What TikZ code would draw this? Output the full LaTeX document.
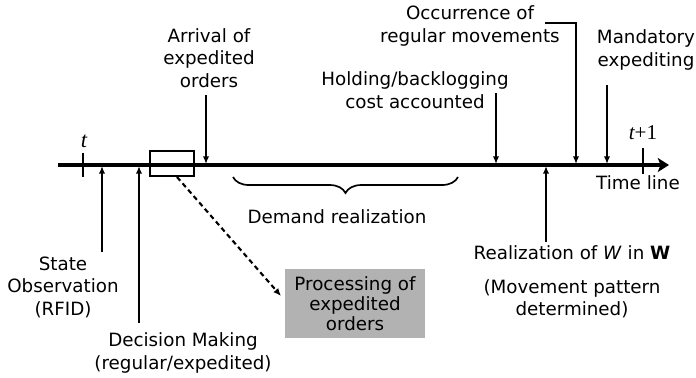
\documentclass[tikz,border=0pt]{standalone}
\usepackage{fontspec}
\setmainfont{DejaVu Sans}
\newfontfamily\serifrm{Liberation Serif}
\usetikzlibrary{arrows.meta,decorations.pathreplacing}

\begin{document}
\begin{tikzpicture}[
    x=0.025cm, y=-0.025cm,
    lab/.style={align=center, inner sep=0pt, font=\fontsize{13}{16}\selectfont},
    tip/.style={line width=1.5pt, -{Latex[length=5.5pt,width=4.6pt]}},
    tick/.style={line width=1.6pt},
    procbox/.style={fill=black!30, minimum width=3.475cm, minimum height=1.725cm, inner sep=0pt, align=center, font=\fontsize{13}{14}\selectfont},
    windowbox/.style={draw, line width=1.3pt, minimum width=1.1cm, minimum height=0.625cm, inner sep=0pt}
    ]
    \useasboundingbox (0,0) rectangle (696,377);

    % time line
    \coordinate (start) at (58,165);
    \coordinate (stop) at (669,165);
    \draw[line width=3pt, -{Stealth[length=8pt,width=10pt,inset=2pt]}] (start) -- (stop);
    \node [windowbox] (window) at (172,163.5) {};

    \coordinate (t0a) at (83,153); \coordinate (t0b) at (83,177);
    \coordinate (t1a) at (643,148); \coordinate (t1b) at (643,174);
    \draw[tick] (t0a) -- (t0b);
    \draw[tick] (t1a) -- (t1b);
    \node [lab, font=\fontsize{16}{16}\selectfont] (tlab) at (84,141) {\serifrm\itshape t};
    \node [lab, font=\fontsize{15}{16}\selectfont] (t1lab) at (643,133) {\serifrm{\itshape t}+1};
    \node [lab] (timeline) at (638,183) {Time line};

    % labels above the line
    \node [lab] (arrival) at (209,58) {Arrival of\\expedited\\orders};
    \node [lab] (occur) at (470,26) {Occurrence of\\regular movements};
    \node [lab] (holding) at (415,90) {Holding/backlogging\\cost accounted};
    \node [lab] (mandatory) at (646,50) {Mandatory\\expediting};

    \coordinate (arr1) at (206,95);  \coordinate (arr2) at (206,164);
    \coordinate (occ1) at (545,23);  \coordinate (occ0) at (576,23);
    \coordinate (occ2) at (576,164);
    \coordinate (hol1) at (496,93);  \coordinate (hol2) at (496,164);
    \coordinate (man1) at (607,85);  \coordinate (man2) at (607,164);

    \draw[tip] (arr1) -- (arr2);
    \draw[tip] (occ1) -- (occ0) -- (occ2);
    \draw[tip] (hol1) -- (hol2);
    \draw[tip] (man1) -- (man2);

    % labels below the line
    \node [lab] (state) at (63,287) {State\\Observation\\(RFID)};
    \node [lab] (decision) at (183,353) {Decision Making\\(regular/expedited)};
    \node [lab] (realization) at (572,253) {Realization of \textit{W} in \textbf{W}};
    \node [lab] (movement) at (572,299) {(Movement pattern\\determined)};
    \node [lab] (demand) at (337,217) {Demand realization};
    \node [procbox] (proc) at (355,303.5) {Processing of\\expedited\\orders};

    \coordinate (obs1) at (102,252); \coordinate (obs2) at (102,166);
    \coordinate (dec1) at (139,323); \coordinate (dec2) at (139,166);
    \coordinate (rea1) at (546,242); \coordinate (rea2) at (546,166);
    \coordinate (win) at (177,177);  \coordinate (pro) at (281,296);

    \draw[tip] (obs1) -- (obs2);
    \draw[tip] (dec1) -- (dec2);
    \draw[tip] (rea1) -- (rea2);
    \draw[tip, dash pattern=on 3.5pt off 2.5pt] (win) -- (pro);

    % demand brace
    \coordinate (br1) at (458,177); \coordinate (br2) at (233,177);
    \draw[line width=1.2pt, decorate, decoration={brace, amplitude=0.4cm}] (br1) -- (br2);
\end{tikzpicture}
\end{document}
